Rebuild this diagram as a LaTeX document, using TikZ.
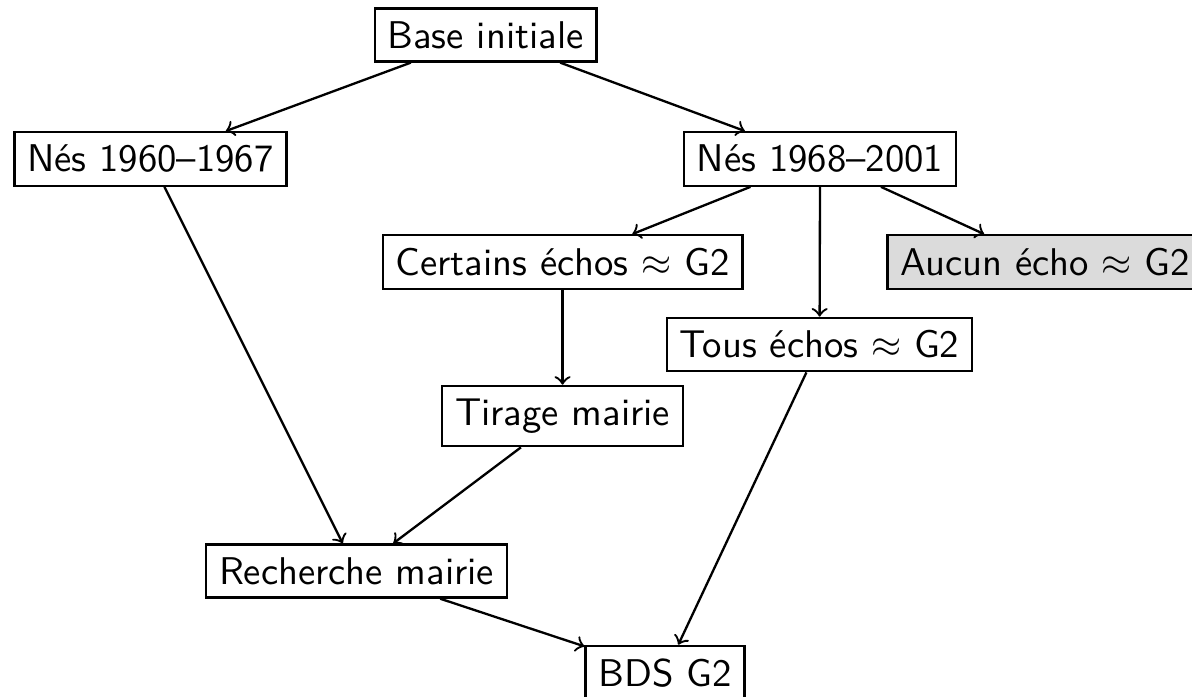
\documentclass[tikz,border=0pt]{standalone}
\renewcommand{\familydefault}{\sfdefault}
\begin{document}
\begin{tikzpicture}[semithick,boite/.style={draw,fill=white},grise/.style={draw,fill=gray!28}]
	%Cadre
	\useasboundingbox (0,0) rectangle (10.836,-6.336) ;
	\clip (0,0) rectangle (10.836,-6.336) ;
	%Noeuds
	\node [boite]	(base)		at (4.414,-0.318)	{Base initiale}				;
	\node [boite]	(nes60)		at (1.368,-1.445)	{Nés 1960--1967}			;
	\node [boite]	(nes68)		at (7.455,-1.445)	{Nés 1968--2001}			;
	\node [boite]	(certains)	at (5.114,-2.382)	{Certains échos $\approx$ G2}	;
	\node [grise]	(aucun)		at (9.500,-2.382)	{Aucun écho $\approx$ G2}	;
	\node [boite]	(tous)		at (7.450,-3.132)	{Tous échos $\approx$ G2}	;
	\node [boite]	(tirage)	at (5.114,-3.782)	{Tirage mairie}				;
	\node [boite]	(recherche)	at (3.241,-5.191)	{Recherche mairie}			;
	\node [boite]	(bds)		at (6.045,-6.118)	{BDS G2}					;
	%Fleches
	\draw [->]	(base)		-- (nes60)		;
	\draw [->]	(base)		-- (nes68)		;
	\draw [->]	(nes68)		-- (certains)	;
	\draw [->]	(nes68)		-- (tous)		;
	\draw [->]	(nes68)		-- (aucun)		;
	\draw [->]	(certains)	-- (tirage)		;
	\draw [->]	(nes60)		-- (recherche)	;
	\draw [->]	(tirage)	-- (recherche)	;
	\draw [->]	(recherche)	-- (bds)		;
	\draw [->]	(tous)		-- (bds)		;
\end{tikzpicture}
\end{document}
